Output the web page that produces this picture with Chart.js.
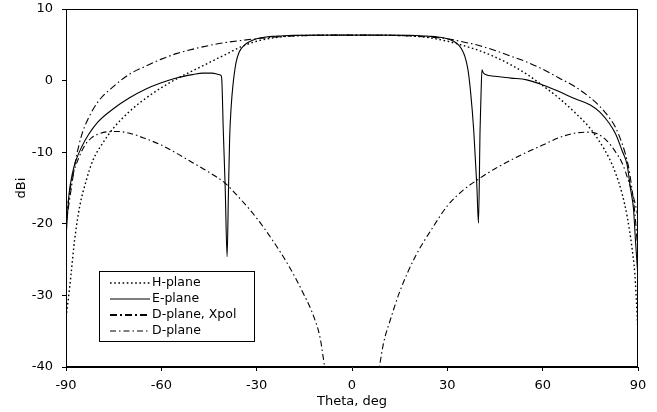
<!DOCTYPE html>
<html>
<head>
<meta charset="utf-8">
<script src="https://cdn.jsdelivr.net/npm/chart.js@4/dist/chart.umd.min.js"></script>
<style>
  html, body { margin: 0; padding: 0; background: #fff; }
  #wrap { width: 657px; height: 412px; }
</style>
</head>
<body>
<div id="wrap"><canvas id="pattern" width="657" height="412"></canvas></div>
<script>
// Radiation pattern cuts (theta in deg, gain in dBi)
const hTheta = [-90, -89.4, -88.4, -87.3, -85.7, -83.6, -81.5, -78.4, -75, -70, -65, -60, -55, -50, -45, -40, -35, -30, -25, -20, -15, -10, -5, 0,
    5, 10, 15, 20, 25, 30, 35, 40, 45, 50, 55, 60, 65, 70, 75, 78, 81, 83, 85, 86.6, 88, 89, 89.7, 90];
const hPlane = [-33, -31, -27, -22.3, -17.6, -13.9, -11.1, -8.7, -6.6, -4.3, -2.5, -1.0, 0.3, 1.4, 2.5, 3.6, 4.7, 5.5, 5.95, 6.2, 6.3, 6.33, 6.35, 6.35,
    6.35, 6.33, 6.3, 6.2, 5.95, 5.5, 4.9, 4.2, 3.3, 2.2, 0.9, -0.7, -2.4, -4.4, -6.7, -8.6, -10.9, -13, -15.8, -19, -23, -27, -32.5, -35];

const eTheta = [-90, -89.5, -89, -88, -87, -85, -83, -80, -75, -70, -65, -60, -55, -50, -47, -44, -42, -41.3, -41.0, -40.5,
    -39.9, -39.3, -38.9, -38.5, -38, -37.5, -36.5, -35.5, -34, -32, -30, -27, -24, -20, -10, 0, 10, 20, 24, 27,
    30, 32, 33.5, 34.5, 35.5, 36.5, 37.3, 38.3, 39.3, 39.8, 40.3, 40.6, 40.9, 41.3, 42, 45, 50, 55, 60, 65,
    70, 75, 78, 81, 83, 85, 86.6, 87.6, 88.6, 89.2, 90];
const ePlane = [-22, -18.5, -15.7, -13.0, -11.3, -9.2, -7.6, -5.8, -3.9, -2.4, -1.2, -0.3, 0.4, 0.85, 1.05, 1.05, 0.85, 0.75, 0.3, -7,
    -15, -24.6, -16, -8, -3.5, -0.8, 2.5, 4.0, 4.9, 5.5, 5.85, 6.1, 6.2, 6.3, 6.35, 6.35, 6.35, 6.3, 6.2, 6.1,
    5.85, 5.5, 5.0, 4.4, 3.4, 1.5, -1.5, -6.9, -14.8, -19.9, -6.9, -2, 1.5, 1.1, 0.85, 0.6, 0.35, 0.1, -0.6, -1.5,
    -2.5, -3.4, -4.4, -6.0, -7.5, -9.8, -11.8, -15, -18, -22.3, -27.5];

const xTheta = [-90, -89, -88, -86, -84, -82, -80, -77, -74, -70, -65, -60, -55, -50, -45, -40, -35, -30, -25, -20,
    -15, -12, -10, -8.6, -6, 0, 6, 8.6, 10, 12, 15, 20, 25, 30, 35, 40, 45, 50, 55, 60,
    65, 70, 74, 77, 80, 83, 85, 87, 89, 90];
const dXpol = [-19, -16, -13.5, -10.8, -9.0, -8.0, -7.5, -7.15, -7.1, -7.35, -8.1, -9.0, -10.2, -11.5, -12.8, -14.3, -16.6, -19.2, -22.3, -25.8,
    -30, -33, -36, -40, -46, -60, -46, -40, -36.5, -33.5, -29.5, -24.5, -20.8, -17.5, -15.3, -13.7, -12.3, -11.1, -10.0, -9.0,
    -8.0, -7.35, -7.2, -7.4, -8.3, -10.0, -11.5, -14, -17, -19];

const dTheta = [-90, -89, -88, -87, -85, -83, -80, -75, -70, -65, -60, -55, -50, -45, -40, -35, -30, -25, -20, -10,
    0, 10, 20, 25, 30, 35, 40, 45, 50, 55, 60, 65, 70, 75, 78, 81, 83, 85, 86, 87, 88, 89, 90];
const dPlane = [-20, -17, -14, -11.2, -7.5, -5.3, -3.0, -0.8, 0.9, 2.0, 3.0, 3.8, 4.4, 4.9, 5.3, 5.6, 5.85, 6.05, 6.2, 6.33,
    6.35, 6.33, 6.2, 6.05, 5.85, 5.4, 4.9, 4.2, 3.4, 2.6, 1.6, 0.4, -0.8, -2.4, -3.6, -5.2, -6.6, -8.8, -10.2, -12, -14.8, -18.5, -24];

const xTicks = [-90, -60, -30, 0, 30, 60, 90];
const yTicks = [-40, -30, -20, -10, 0, 10];

const FONT = { family: '"DejaVu Sans", sans-serif', size: 13 };

const toPoints = (xs, ys) => xs.map((x, i) => ({ x: x, y: ys[i] }));

// frame around the plot area
const framePlugin = {
    id: 'frame',
    afterDatasetsDraw(chart) {
        const { ctx, chartArea: a } = chart;
        ctx.save();
        ctx.strokeStyle = '#000';
        ctx.lineWidth = 1;
        ctx.strokeRect(Math.round(a.left) + 0.5, Math.round(a.top) + 0.5,
            Math.round(a.right - a.left) - 1, Math.round(a.bottom - a.top) - 1);
        ctx.restore();
    }
};

// boxed legend in the lower left of the plot
const boxLegend = {
    id: 'boxLegend',
    afterDraw(chart) {
        const { ctx } = chart;
        const x0 = 99.5, y0 = 271.5, w = 155, h = 70;
        ctx.save();
        ctx.fillStyle = '#fff';
        ctx.fillRect(x0, y0, w, h);
        ctx.strokeStyle = '#000';
        ctx.lineWidth = 1;
        ctx.strokeRect(x0, y0, w, h);
        ctx.font = `12.5px ${FONT.family}`;
        ctx.textBaseline = 'middle';
        chart.data.datasets.forEach((ds, i) => {
            const y = 283 + i * 16;
            ctx.beginPath();
            ctx.setLineDash(ds.legendDash || ds.borderDash || []);
            ctx.lineWidth = ds.legendWidth || ds.borderWidth;
            ctx.strokeStyle = '#000';
            ctx.moveTo(110, y);
            ctx.lineTo(150, y);
            ctx.stroke();
            ctx.setLineDash([]);
            ctx.fillStyle = '#000';
            ctx.fillText(ds.label, 152, y);
        });
        ctx.restore();
    }
};

new Chart(document.getElementById('pattern'), {
    type: 'line',
    data: {
        datasets: [
            {
                label: 'H-plane',
                data: toPoints(hTheta, hPlane),
                borderColor: '#000',
                borderWidth: 1.4,
                borderDash: [1.6, 2.6],
                pointRadius: 0,
                cubicInterpolationMode: 'monotone'
            },
            {
                label: 'E-plane',
                data: toPoints(eTheta, ePlane),
                borderColor: '#000',
                borderWidth: 1.1,
                pointRadius: 0,
                cubicInterpolationMode: 'monotone'
            },
            {
                label: 'D-plane, Xpol',
                data: toPoints(xTheta, dXpol),
                borderColor: '#000',
                borderWidth: 1.1,
                borderDash: [6, 3, 1.5, 3],
                legendWidth: 2.2,
                legendDash: [7, 3, 2, 3],
                pointRadius: 0,
                cubicInterpolationMode: 'monotone'
            },
            {
                label: 'D-plane',
                data: toPoints(dTheta, dPlane),
                borderColor: '#000',
                borderWidth: 1.1,
                borderDash: [7, 3, 1.5, 3],
                legendWidth: 1,
                legendDash: [6, 3, 1.5, 3],
                pointRadius: 0,
                cubicInterpolationMode: 'monotone'
            }
        ]
    },
    options: {
        responsive: false,
        animation: false,
        layout: { padding: { top: 9, right: 19, left: 0, bottom: 0 } },
        plugins: {
            legend: { display: false },
            tooltip: { enabled: false }
        },
        scales: {
            x: {
                type: 'linear',
                min: -90,
                max: 90,
                afterFit: (s) => { s.height = 45; s.paddingLeft = 0; s.paddingRight = 0; },
                afterBuildTicks: (s) => { s.ticks = xTicks.map(v => ({ value: v })); },
                ticks: { color: '#000', font: FONT, padding: 7, maxRotation: 0 },
                grid: { drawOnChartArea: false, tickLength: 4, color: '#000' },
                border: { color: '#000' },
                title: { display: true, text: 'Theta, deg', color: '#000', font: FONT, padding: { top: 0, bottom: 3 } }
            },
            y: {
                min: -40,
                max: 10,
                afterFit: (s) => { s.width = 66; s.paddingTop = 0; s.paddingBottom = 0; },
                afterBuildTicks: (s) => { s.ticks = yTicks.map(v => ({ value: v })); },
                ticks: { color: '#000', font: FONT, padding: 9 },
                grid: { drawOnChartArea: false, tickLength: 4, color: '#000' },
                border: { color: '#000' },
                title: { display: true, text: 'dBi', color: '#000', font: FONT, padding: { top: 14, bottom: 0 } }
            }
        }
    },
    plugins: [framePlugin, boxLegend]
});
</script>
</body>
</html>
